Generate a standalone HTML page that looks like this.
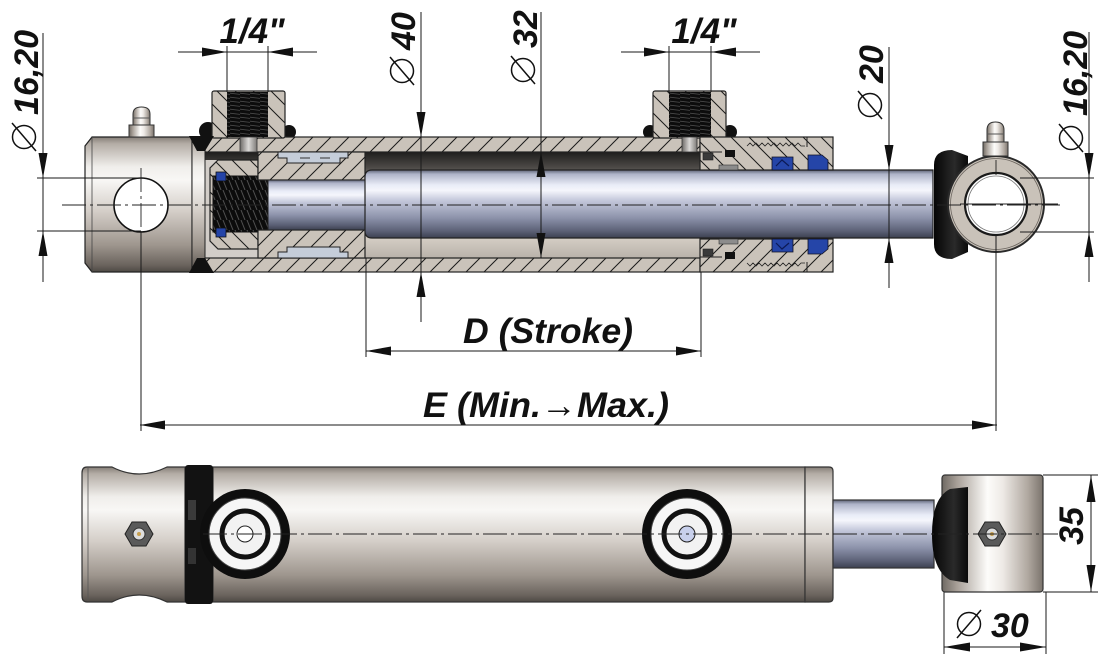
<!DOCTYPE html>
<html><head><meta charset="utf-8"><title>Hydraulic cylinder drawing</title>
<style>
html,body{margin:0;padding:0;background:#fff;width:1100px;height:659px;overflow:hidden}
svg{display:block}
.t{font-family:"Liberation Sans",Arial,sans-serif;font-weight:bold;font-style:italic;fill:#111}
.d{stroke:#1a1a1a;stroke-width:1;fill:none}
.c{stroke:#222;stroke-width:0.9;fill:none;stroke-dasharray:24 4 3 4}
.a{fill:#111}
.o{stroke:#222;stroke-width:1.2}
</style></head><body>
<svg width="1100" height="659" viewBox="0 0 1100 659" xmlns="http://www.w3.org/2000/svg">
<defs>
 <linearGradient id="metal" x1="0" y1="0" x2="0" y2="1">
  <stop offset="0" stop-color="#857e77"/>
  <stop offset="0.05" stop-color="#b4ada6"/>
  <stop offset="0.22" stop-color="#f0eeeb"/>
  <stop offset="0.32" stop-color="#f8f7f5"/>
  <stop offset="0.55" stop-color="#d4cec8"/>
  <stop offset="0.8" stop-color="#9e968e"/>
  <stop offset="0.95" stop-color="#6a635d"/>
  <stop offset="1" stop-color="#4e4944"/>
 </linearGradient>
 <linearGradient id="metalH" x1="0" y1="0" x2="1" y2="0">
  <stop offset="0" stop-color="#6f6963"/>
  <stop offset="0.15" stop-color="#a8a098"/>
  <stop offset="0.45" stop-color="#fdfcfa"/>
  <stop offset="0.6" stop-color="#eeeae6"/>
  <stop offset="0.85" stop-color="#b0a8a0"/>
  <stop offset="1" stop-color="#7a736c"/>
 </linearGradient>
 <linearGradient id="rod" x1="0" y1="0" x2="0" y2="1">
  <stop offset="0" stop-color="#5d6276"/>
  <stop offset="0.06" stop-color="#aeb3c8"/>
  <stop offset="0.22" stop-color="#e9ecf7"/>
  <stop offset="0.3" stop-color="#f5f6fc"/>
  <stop offset="0.45" stop-color="#c3c7da"/>
  <stop offset="0.7" stop-color="#8d93ab"/>
  <stop offset="0.9" stop-color="#5b6075"/>
  <stop offset="1" stop-color="#3c4050"/>
 </linearGradient>
 <linearGradient id="bore" x1="0" y1="0" x2="0" y2="1">
  <stop offset="0" stop-color="#1f1e1d"/>
  <stop offset="0.15" stop-color="#4e4b48"/>
  <stop offset="0.2" stop-color="#6a6561"/>
  <stop offset="0.5" stop-color="#9a948e"/>
  <stop offset="0.82" stop-color="#d3ccc3"/>
  <stop offset="1" stop-color="#b9b2aa"/>
 </linearGradient>
 <linearGradient id="pin" x1="0" y1="0" x2="1" y2="0">
  <stop offset="0" stop-color="#6d6a67"/>
  <stop offset="0.5" stop-color="#dcdad8"/>
  <stop offset="1" stop-color="#7d7a77"/>
 </linearGradient>
 <linearGradient id="boot" x1="0" y1="0" x2="1" y2="0">
  <stop offset="0" stop-color="#050505"/>
  <stop offset="0.6" stop-color="#2a2a2a"/>
  <stop offset="1" stop-color="#0a0a0a"/>
 </linearGradient>
 <pattern id="h1" patternUnits="userSpaceOnUse" width="18" height="18">
  <rect width="18" height="18" fill="#cac3ba"/>
  <path d="M-4,4 L4,-4 M0,18 L18,0 M14,22 L22,14" stroke="#1a1a1a" stroke-width="1"/>
 </pattern>
 <pattern id="h2" patternUnits="userSpaceOnUse" width="18" height="18">
  <rect width="18" height="18" fill="#cac3ba"/>
  <path d="M0,0 L18,18 M-4,14 L4,22 M14,-4 L22,4" stroke="#1a1a1a" stroke-width="1"/>
 </pattern>
 <pattern id="thr" patternUnits="userSpaceOnUse" width="10" height="4">
  <rect width="10" height="4" fill="#0c0c0c"/>
  <path d="M0,1.2 L10,2.4" stroke="#4a4a4a" stroke-width="0.8"/>
 </pattern>
 <pattern id="coil" patternUnits="userSpaceOnUse" width="6" height="10">
  <rect width="6" height="10" fill="#0c0c0c"/>
  <path d="M1,0 L5,10" stroke="#505050" stroke-width="1"/>
 </pattern>
</defs>

<!-- ================= TOP VIEW (section) ================= -->
<rect x="205" y="152" width="500" height="106" fill="url(#bore)"/>
<rect x="205" y="160" width="55" height="98" fill="#d2cdc8"/>
<circle cx="208" cy="131" r="9" fill="#111"/>
<circle cx="289" cy="132" r="7" fill="#111"/>
<circle cx="650" cy="132" r="7" fill="#111"/>
<circle cx="730" cy="132" r="7" fill="#111"/>
<rect x="205" y="137" width="495" height="15" fill="url(#h1)" class="o"/>
<rect x="205" y="258" width="495" height="14" fill="url(#h1)" class="o"/>
<rect x="212" y="91" width="73" height="47" rx="2" fill="url(#h2)" class="o"/>
<rect x="227" y="92" width="41" height="45" fill="url(#thr)"/>
<rect x="240" y="137" width="17" height="15" fill="url(#pin)" stroke="#333" stroke-width="0.8"/>
<rect x="653" y="91" width="73" height="47" rx="2" fill="url(#h2)" class="o"/>
<rect x="669" y="92" width="42" height="45" fill="url(#thr)"/>
<rect x="682" y="137" width="15" height="15" fill="url(#pin)" stroke="#333" stroke-width="0.8"/>

<path d="M92,137 L192,137 L192,272 L92,272 L85,263 L85,146 Z" fill="url(#metal)" class="o"/>
<line x1="92" y1="137" x2="92" y2="272" stroke="#444" stroke-width="0.8"/>
<circle cx="141" cy="205" r="27" fill="#fff" stroke="#111" stroke-width="1.6"/>
<rect x="192" y="137" width="13" height="135" fill="url(#metal)" stroke="#222" stroke-width="1"/>
<path d="M189,136 L214,136 L205,151 L197,151 Z" fill="#111"/>
<path d="M189,273 L214,273 L205,258 L197,258 Z" fill="#111"/>
<rect x="129" y="125" width="25" height="12" fill="url(#metalH)" stroke="#333"/>
<path d="M133,125 L133,114 Q133,107 141.5,107 Q150,107 150,114 L150,125 Z" fill="url(#metalH)" stroke="#333"/>
<line x1="133" y1="118" x2="150" y2="118" stroke="#555"/>

<path d="M218,160 L258,160 L258,249 L218,249 L210,241 L210,168 Z" fill="url(#h2)" class="o"/>
<rect x="213" y="176" width="55" height="56" fill="url(#coil)" stroke="#111"/>
<rect x="216" y="172" width="10" height="9" fill="#2444a8" stroke="#111" stroke-width="0.8"/>
<rect x="216" y="228" width="10" height="9" fill="#2444a8" stroke="#111" stroke-width="0.8"/>

<rect x="258" y="152" width="107" height="28" fill="url(#h1)" class="o"/>
<rect x="258" y="230" width="107" height="28" fill="url(#h1)" class="o"/>
<path d="M278,152 L348,152 L348,158 L340,158 L340,163 L287,163 L287,158 L278,158 Z" fill="#c5cdd9" stroke="#222"/>
<path d="M278,258 L348,258 L348,252 L340,252 L340,247 L287,247 L287,252 L278,252 Z" fill="#c5cdd9" stroke="#222"/>
<line x1="300" y1="158" x2="310" y2="158" stroke="#333"/>
<line x1="320" y1="158" x2="330" y2="158" stroke="#333"/>

<rect x="268" y="180" width="97" height="50" fill="url(#rod)" stroke="#222"/>
<path d="M372,170 L933,170 L933,238 L372,238 Q365,238 365,231 L365,177 Q365,170 372,170 Z" fill="url(#rod)" class="o"/>

<g id="gl">
 <rect x="700" y="137" width="133" height="33" fill="url(#h2)" class="o"/>
 <path d="M747,146 l3,-3 l3,3 l3,-3 l3,3 l3,-3 l3,3 l3,-3 l3,3 l3,-3 l3,3 l3,-3 l3,3 l3,-3 l3,3 l3,-3 l3,3 l3,-3 l3,3 l4,0" stroke="#222" stroke-width="0.8" fill="none"/>
 <line x1="807" y1="137" x2="807" y2="147" stroke="#222"/>
 <line x1="700" y1="152" x2="722" y2="152" stroke="#222"/>
 <rect x="703" y="153" width="10" height="7" fill="#3a3a3a" stroke="#222" stroke-width="0.6"/>
 <rect x="725" y="150" width="10" height="7" fill="#111"/>
 <rect x="719" y="165" width="19" height="5" fill="#8c8c8c" stroke="#333" stroke-width="0.6"/>
 <path d="M772,157 L793,157 L793,170 L772,170 Z" fill="#2545a8" stroke="#112" stroke-width="0.8"/>
 <path d="M776,166 L782,160 L789,166" stroke="#0c1a55" stroke-width="1.2" fill="none"/>
 <path d="M808,155 L822,155 L828,160 L828,170 L808,170 Z" fill="#2545a8" stroke="#112" stroke-width="0.8"/>
</g>
<use href="#gl" transform="matrix(1 0 0 -1 0 409)"/>

<path d="M968,156 L952,150 Q934,150 934,165 L934,244 Q934,259 952,259 L968,252 Z" fill="url(#boot)"/>
<circle cx="996" cy="204" r="48" fill="#c9c2b9" stroke="#2a2a2a" stroke-width="2"/>
<circle cx="996" cy="204" r="45.5" fill="none" stroke="#6a645e" stroke-width="0.8"/>
<circle cx="996" cy="204" r="31" fill="#fff" stroke="#1a1a1a" stroke-width="2.2"/>
<circle cx="996" cy="204" r="28" fill="none" stroke="#777" stroke-width="0.8"/>
<rect x="983" y="142" width="25" height="14" fill="url(#metalH)" stroke="#333"/>
<path d="M987,142 L987,130 Q987,122 995.5,122 Q1004,122 1004,130 L1004,142 Z" fill="url(#metalH)" stroke="#333"/>
<line x1="987" y1="134" x2="1004" y2="134" stroke="#555"/>

<line x1="62" y1="205" x2="1060" y2="205" class="c"/>
<line x1="141" y1="168" x2="141" y2="240" class="c"/>
<line x1="996" y1="160" x2="996" y2="175" class="c"/>
<line x1="960" y1="204" x2="1058" y2="204" stroke="#222" stroke-width="0.9"/>

<!-- ================= DIMENSIONS TOP ================= -->
<line x1="43" y1="33" x2="43" y2="282" class="d"/>
<line x1="37" y1="178" x2="141" y2="178" class="d"/>
<line x1="37" y1="231" x2="141" y2="231" class="d"/>
<polygon class="a" points="43,178 38.5,153 47.5,153"/>
<polygon class="a" points="43,231 38.5,256 47.5,256"/>
<g transform="translate(24,137) rotate(-90)">
 <circle r="11.5" fill="none" stroke="#111" stroke-width="1.5"/>
 <line x1="-14" y1="12" x2="14" y2="-12" stroke="#111" stroke-width="1.5"/>
 <text class="t" x="22" y="14" font-size="34">16,20</text>
</g>
<line x1="421" y1="12" x2="421" y2="322" class="d"/>
<polygon class="a" points="421,137 416.5,112 425.5,112"/>
<polygon class="a" points="421,272 416.5,297 425.5,297"/>
<g transform="translate(402,71) rotate(-90)">
 <circle r="11.5" fill="none" stroke="#111" stroke-width="1.5"/>
 <line x1="-14" y1="12" x2="14" y2="-12" stroke="#111" stroke-width="1.5"/>
 <text class="t" x="21" y="13" font-size="34">40</text>
</g>
<line x1="541" y1="12" x2="541" y2="258" class="d"/>
<polygon class="a" points="541,152 536.5,177 545.5,177"/>
<polygon class="a" points="541,258 536.5,233 545.5,233"/>
<g transform="translate(523,70) rotate(-90)">
 <circle r="11.5" fill="none" stroke="#111" stroke-width="1.5"/>
 <line x1="-14" y1="12" x2="14" y2="-12" stroke="#111" stroke-width="1.5"/>
 <text class="t" x="22" y="14" font-size="34">32</text>
</g>
<line x1="889" y1="47" x2="889" y2="288" class="d"/>
<polygon class="a" points="889,170 884.5,145 893.5,145"/>
<polygon class="a" points="889,238 884.5,263 893.5,263"/>
<g transform="translate(870,105) rotate(-90)">
 <circle r="11.5" fill="none" stroke="#111" stroke-width="1.5"/>
 <line x1="-14" y1="12" x2="14" y2="-12" stroke="#111" stroke-width="1.5"/>
 <text class="t" x="22" y="13" font-size="34">20</text>
</g>
<line x1="1089" y1="32" x2="1089" y2="282" class="d"/>
<line x1="1020" y1="178" x2="1094" y2="178" class="d"/>
<line x1="1020" y1="232" x2="1094" y2="232" class="d"/>
<polygon class="a" points="1089,178 1084.5,153 1093.5,153"/>
<polygon class="a" points="1089,232 1084.5,257 1093.5,257"/>
<g transform="translate(1071,138) rotate(-90)">
 <circle r="11.5" fill="none" stroke="#111" stroke-width="1.5"/>
 <line x1="-14" y1="12" x2="14" y2="-12" stroke="#111" stroke-width="1.5"/>
 <text class="t" x="22" y="16" font-size="34">16,20</text>
</g>
<line x1="178" y1="52" x2="317" y2="52" class="d"/>
<line x1="227" y1="46" x2="227" y2="92" class="d"/>
<line x1="268" y1="46" x2="268" y2="92" class="d"/>
<polygon class="a" points="227,52 202,47.5 202,56.5"/>
<polygon class="a" points="268,52 293,47.5 293,56.5"/>
<text class="t" x="252" y="43" font-size="35" text-anchor="middle">1/4"</text>
<line x1="621" y1="52" x2="760" y2="52" class="d"/>
<line x1="669" y1="46" x2="669" y2="92" class="d"/>
<line x1="711" y1="46" x2="711" y2="92" class="d"/>
<polygon class="a" points="669,52 644,47.5 644,56.5"/>
<polygon class="a" points="711,52 736,47.5 736,56.5"/>
<text class="t" x="704" y="43" font-size="35" text-anchor="middle">1/4"</text>
<line x1="366" y1="351" x2="701" y2="351" class="d"/>
<line x1="366" y1="258" x2="366" y2="357" class="d"/>
<line x1="701" y1="272" x2="701" y2="357" class="d"/>
<polygon class="a" points="366,351 391,346.5 391,355.5"/>
<polygon class="a" points="701,351 676,346.5 676,355.5"/>
<text class="t" x="548" y="343" font-size="35" text-anchor="middle" textLength="170" lengthAdjust="spacingAndGlyphs">D (Stroke)</text>
<line x1="140" y1="425" x2="997" y2="425" class="d"/>
<line x1="141" y1="232" x2="141" y2="431" class="d"/>
<line x1="996" y1="234" x2="996" y2="431" class="d"/>
<polygon class="a" points="140,425 165,420.5 165,429.5"/>
<polygon class="a" points="997,425 972,420.5 972,429.5"/>
<text class="t" x="546" y="417" font-size="35" text-anchor="middle" textLength="246" lengthAdjust="spacingAndGlyphs">E (Min.→Max.)</text>

<!-- ================= BOTTOM VIEW ================= -->
<path d="M87,467 L112,467 Q139,481 167,467 L185,467 L185,602 L167,602 Q139,588 112,602 L87,602 Q82,602 82,596 L82,473 Q82,467 87,467 Z" fill="url(#metal)" stroke="#333" stroke-width="1.2"/>
<line x1="88" y1="468" x2="88" y2="601" stroke="#555" stroke-width="0.8"/>
<rect x="213" y="467" width="592" height="135" fill="url(#metal)" stroke="#333" stroke-width="1.2"/>
<path d="M805,467 L829,467 Q833,467 833,471 L833,598 Q833,602 829,602 L805,602 Z" fill="url(#metal)" stroke="#333" stroke-width="1.2"/>
<rect x="185" y="465" width="28" height="139" rx="3" fill="#121212"/>
<rect x="188" y="500" width="8" height="20" fill="#3a3a3a"/>
<rect x="188" y="548" width="8" height="16" fill="#333"/>
<g>
 <circle cx="245" cy="534" r="45" fill="#0e0e0e"/>
 <circle cx="245" cy="534" r="36" fill="#f6f6f6" stroke="#444" stroke-width="1"/>
 <circle cx="245" cy="534" r="23" fill="#f2f2f2" stroke="#111" stroke-width="5"/>
 <circle cx="245" cy="534" r="8" fill="#fff" stroke="#222" stroke-width="1"/>
</g>
<g>
 <circle cx="687" cy="534" r="45" fill="#0e0e0e"/>
 <circle cx="687" cy="534" r="36" fill="#f6f6f6" stroke="#444" stroke-width="1"/>
 <circle cx="687" cy="534" r="23" fill="#f2f2f2" stroke="#111" stroke-width="5"/>
 <circle cx="687" cy="534" r="8" fill="#c8d0ec" stroke="#222" stroke-width="1"/>
</g>
<rect x="833" y="500" width="101" height="68" fill="url(#rod)" stroke="#333" stroke-width="1.2"/>
<rect x="942" y="475" width="101" height="117" rx="3" fill="url(#metalH)" stroke="#333" stroke-width="1.2"/>
<path d="M968,487 L950,489 Q932,498 932,534 Q932,570 950,580 L968,583 Z" fill="url(#boot)"/>
<g>
 <polygon points="153,534 146,522 132,522 125,534 132,546 146,546" fill="#5a5a5a" stroke="#222"/>
 <circle cx="139" cy="534" r="6" fill="#ddd" stroke="#333"/>
 <circle cx="139" cy="534" r="2" fill="#c8a050"/>
</g>
<g>
 <polygon points="1006,534 999,522 985,522 978,534 985,546 999,546" fill="#5a5a5a" stroke="#222"/>
 <circle cx="992" cy="534" r="6" fill="#ddd" stroke="#333"/>
 <circle cx="992" cy="534" r="2" fill="#c8a050"/>
</g>
<line x1="203" y1="534" x2="1058" y2="534" class="c"/>

<line x1="1091" y1="475" x2="1091" y2="592" class="d"/>
<line x1="1043" y1="475" x2="1098" y2="475" class="d"/>
<line x1="1043" y1="592" x2="1098" y2="592" class="d"/>
<polygon class="a" points="1091,475 1086.5,502 1095.5,502"/>
<polygon class="a" points="1091,592 1086.5,565 1095.5,565"/>
<text class="t" transform="translate(1083,526) rotate(-90)" x="0" y="0" font-size="34" text-anchor="middle">35</text>
<line x1="944" y1="647" x2="1046" y2="647" class="d"/>
<line x1="944" y1="592" x2="944" y2="654" class="d"/>
<line x1="1046" y1="592" x2="1046" y2="654" class="d"/>
<polygon class="a" points="944,647 970,642.5 970,651.5"/>
<polygon class="a" points="1046,647 1020,642.5 1020,651.5"/>
<circle cx="969" cy="624" r="11.5" fill="none" stroke="#111" stroke-width="1.5"/>
<line x1="957" y1="638" x2="981" y2="610" stroke="#111" stroke-width="1.5"/>
<text class="t" x="991" y="637" font-size="34">30</text>
</svg>
</body></html>
